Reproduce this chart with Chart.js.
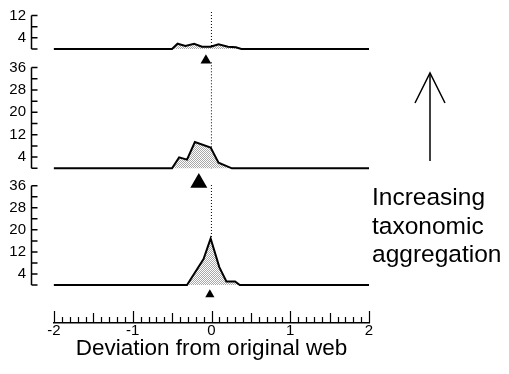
<!DOCTYPE html>
<html>
<head>
<meta charset="utf-8">
<script src="https://cdn.jsdelivr.net/npm/chart.js@4.4.1/dist/chart.umd.min.js"></script>
<style>
  html, body { margin: 0; padding: 0; background: #fff; }
  body { width: 509px; height: 374px; position: relative; overflow: hidden; font-family: "Liberation Sans", Arial, sans-serif; }
  canvas { position: absolute; left: 0; }
  #arrow { position: absolute; left: 0; top: 0; }
  #note { position: absolute; left: 372px; top: 183px; font-size: 24.5px; line-height: 28.5px; color: #000; }
</style>
</head>
<body>
<canvas id="panel1" width="380" height="96" style="top:-10px"></canvas>
<canvas id="panel2" width="380" height="168" style="top:42px"></canvas>
<canvas id="panel3" width="380" height="157" style="top:163px"></canvas>
<canvas id="axis" width="380" height="74" style="top:300px"></canvas>
<svg id="arrow" width="509" height="374">
  <line x1="430" y1="73" x2="430" y2="161" stroke="#000" stroke-width="1.5"/>
  <polyline points="415,103 430,73 445,103" fill="none" stroke="#000" stroke-width="1.5"/>
</svg>
<div id="note">Increasing<br>taxonomic<br>aggregation</div>
<script>
// данные
const xTickValues = [-2, -1, 0, 1, 2];
const yLabelsSmall = [4, 12];
const yLabelsLarge = [4, 12, 20, 28, 36];

// верхняя панель
const lowX = [-2, -0.5, -0.43, -0.33, -0.22, -0.12, -0.01, 0.09, 0.21, 0.31, 0.38, 2];
const lowY = [0, 0, 1.9, 1.1, 1.9, 0.8, 0.8, 1.7, 0.8, 0.6, 0, 0];
// средняя панель
const midX = [-2, -0.5, -0.41, -0.31, -0.21, -0.01, 0.09, 0.26, 2];
const midY = [0, 0, 3.9, 3.1, 9.4, 7.4, 2.0, 0, 0];
// нижняя панель
const highX = [-2, -0.31, -0.1, -0.01, 0.1, 0.19, 0.3, 0.36, 2];
const highY = [0, 0, 9.4, 16.9, 6.5, 1.3, 1.3, 0, 0];
// средние значения (треугольники)
const meanX = [-0.07, -0.16, -0.02];

Chart.defaults.font.family = '"Liberation Sans", Arial, sans-serif';
Chart.defaults.color = '#000';

function stipple(canvas) {
  const pc = document.createElement('canvas');
  pc.width = 2; pc.height = 2;
  const p = pc.getContext('2d');
  p.fillStyle = '#fff'; p.fillRect(0, 0, 2, 2);
  p.fillStyle = '#a8a8a8'; p.fillRect(0, 0, 1, 1); p.fillRect(1, 1, 1, 1);
  return canvas.getContext('2d').createPattern(pc, 'repeat');
}

// скобка оси Y с засечками внутрь
const bracket = {
  id: 'bracket',
  afterDraw(chart, args, opts) {
    const y = chart.scales.y, ctx = chart.ctx, x0 = chart.chartArea.left + 0.5;
    ctx.save();
    ctx.strokeStyle = '#000';
    ctx.lineWidth = 1.5;
    ctx.beginPath();
    ctx.moveTo(x0, y.getPixelForValue(0));
    ctx.lineTo(x0, y.getPixelForValue(opts.top));
    for (let v = 0; v <= opts.top; v += 4) {
      const py = y.getPixelForValue(v);
      ctx.moveTo(x0, py);
      ctx.lineTo(x0 + 6, py);
    }
    ctx.stroke();
    ctx.restore();
  }
};

// засечки оси X вверх
const xTicksUp = {
  id: 'xTicksUp',
  afterDraw(chart) {
    const x = chart.scales.x, ctx = chart.ctx, base = chart.chartArea.bottom;
    ctx.save();
    ctx.strokeStyle = '#000';
    ctx.lineWidth = 1.2;
    ctx.beginPath();
    for (let i = -20; i <= 20; i++) {
      const len = i % 10 === 0 ? 12 : (i % 5 === 0 ? 10 : 6);
      const px = Math.round(x.getPixelForValue(i / 10)) + 0.5;
      ctx.moveTo(px, base);
      ctx.lineTo(px, base - len);
    }
    ctx.stroke();
    ctx.restore();
  }
};

function makePanel(id, xs, ys, mean, cfg) {
  const canvas = document.getElementById(id);
  const pts = xs.map((x, i) => ({ x: x, y: ys[i] }));
  // пиксели: верх области, базовая линия, низ области (относительно canvas)
  const pxPerUnit = (cfg.base - cfg.top) / cfg.max;
  const min = -(cfg.bottom - cfg.base) / pxPerUnit;
  const markerY = -cfg.markerOffset / pxPerUnit;
  new Chart(canvas, {
    type: 'line',
    data: {
      datasets: [
        {
          data: pts,
          borderColor: '#000',
          borderWidth: 2,
          backgroundColor: stipple(canvas),
          fill: 'origin',
          pointRadius: 0,
          tension: 0,
          order: 1
        },
        {
          data: [{ x: 0, y: 0 }, { x: 0, y: cfg.max }],
          borderColor: '#000',
          borderWidth: 1,
          borderDash: [1, 2],
          pointRadius: 0,
          fill: false,
          order: 2
        },
        {
          data: [{ x: mean, y: markerY }],
          showLine: false,
          pointStyle: 'triangle',
          pointRadius: cfg.markerR,
          backgroundColor: '#000',
          borderColor: '#000',
          borderWidth: 0,
          clip: false,
          order: 0
        }
      ]
    },
    options: {
      responsive: false,
      animation: false,
      devicePixelRatio: 1,
      layout: { padding: { left: 0, right: 11, top: cfg.top, bottom: canvas.height - cfg.bottom } },
      plugins: {
        legend: { display: false },
        tooltip: { enabled: false },
        bracket: { top: cfg.tickTop }
      },
      scales: {
        x: { type: 'linear', display: false, min: -2.29, max: 2 },
        y: {
          min: min,
          max: cfg.max,
          afterFit: s => { s.width = 31; },
          afterBuildTicks: s => { s.ticks = cfg.labels.map(v => ({ value: v })); },
          grid: { display: false, drawTicks: false },
          border: { display: false },
          ticks: { padding: 5, font: { size: 15 } }
        }
      }
    },
    plugins: [bracket]
  });
}

// панели: координаты области графика внутри своего canvas
makePanel('panel1', lowX, lowY, meanX[0],
  { top: 20, base: 59, bottom: 76, max: 14, tickTop: 12, labels: yLabelsSmall, markerOffset: 11.5, markerR: 6.2 });
makePanel('panel2', midX, midY, meanX[1],
  { top: 20, base: 126.3, bottom: 148, max: 38, tickTop: 36, labels: yLabelsLarge, markerOffset: 14.5, markerR: 9.8 });
makePanel('panel3', highX, highY, meanX[2],
  { top: 20, base: 122, bottom: 137, max: 37, tickTop: 36, labels: yLabelsLarge, markerOffset: 9.6, markerR: 5.3 });

// ось X
new Chart(document.getElementById('axis'), {
  type: 'line',
  data: { datasets: [] },
  options: {
    responsive: false,
    animation: false,
    devicePixelRatio: 1,
    layout: { padding: { left: 54, right: 11, top: 11, bottom: 0 } },
    plugins: { legend: { display: false }, tooltip: { enabled: false } },
    scales: {
      x: {
        type: 'linear',
        min: -2,
        max: 2,
        afterBuildTicks: s => { s.ticks = xTickValues.map(v => ({ value: v })); },
        afterFit: s => { s.height = 51; },
        grid: { display: false, drawTicks: false },
        border: { display: true, color: '#000', width: 1.5 },
        ticks: { padding: -1, font: { size: 15 } },
        title: {
          display: true,
          text: 'Deviation from original web',
          font: { size: 22.5 },
          padding: { top: 0, bottom: 12 }
        }
      },
      y: { display: false }
    }
  },
  plugins: [xTicksUp]
});
</script>
</body>
</html>
